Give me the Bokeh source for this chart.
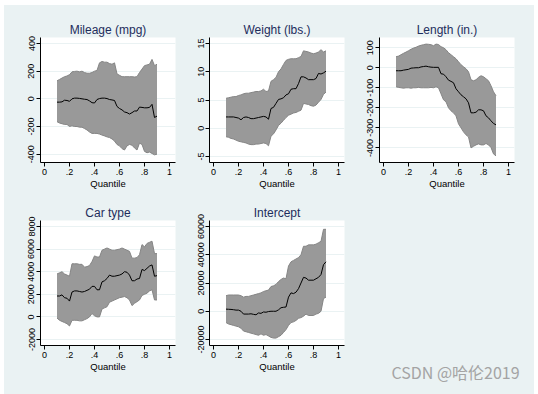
from bokeh.plotting import figure
from bokeh.layouts import gridplot
from bokeh.models import Range1d, FixedTicker, Title
from bokeh.embed import file_html
from bokeh.resources import INLINE

quantile = [0.10, 0.12, 0.14, 0.16, 0.18, 0.20, 0.22, 0.24, 0.26, 0.28, 0.30,
            0.32, 0.34, 0.36, 0.38, 0.40, 0.42, 0.44, 0.46, 0.48, 0.50, 0.52,
            0.54, 0.56, 0.58, 0.60, 0.62, 0.64, 0.66, 0.68, 0.70, 0.72, 0.74,
            0.76, 0.78, 0.80, 0.82, 0.84, 0.86, 0.88, 0.90]

mpg_coef = [-24, -24, -22, -10, -12, -18, 0, 5, 5, 3, 0, -3, -5, -15, -28, -30, -5, 2, 5, 5, 2,
            -5, -8, -12, -55, -70, -80, -95, -100, -110, -100, -88, -88, -60, -62, -65, -65, -62,
            -40, -135, -125]
mpg_hi = [130, 140, 150, 160, 165, 175, 195, 198, 200, 195, 200, 190, 185, 185, 190, 200, 205,
          260, 270, 265, 265, 255, 250, 260, 180, 170, 160, 160, 160, 160, 160, 158, 160, 190,
          215, 240, 245, 250, 285, 240, 250]
mpg_lo = [-165, -175, -180, -185, -185, -200, -195, -200, -200, -205, -205, -215, -225, -240,
          -250, -250, -250, -255, -262, -268, -275, -280, -290, -305, -330, -340, -360, -370,
          -340, -330, -335, -355, -370, -320, -330, -380, -390, -385, -395, -405, -400]

wt_coef = [2.0, 2.0, 2.0, 2.0, 1.9, 1.8, 1.5, 1.9, 2.0, 1.9, 1.7, 1.7, 1.8, 1.9, 2.0, 2.1, 2.0,
           1.6, 3.5, 3.7, 4.4, 5.1, 5.2, 5.4, 5.9, 6.1, 6.9, 7.0, 7.0, 7.9, 9.1, 9.1, 8.9, 8.6,
           8.6, 8.6, 8.8, 9.7, 9.6, 9.8, 10.1]
wt_hi = [5.3, 5.4, 5.5, 5.6, 5.6, 5.8, 5.9, 6.1, 6.2, 6.2, 6.3, 6.4, 6.5, 6.5, 6.6, 6.9, 6.5,
         6.6, 8.3, 8.6, 9.0, 10.0, 10.5, 11.3, 12.0, 12.2, 12.3, 12.3, 12.3, 12.5, 12.7, 13.7,
         13.6, 13.5, 13.3, 13.2, 13.3, 13.5, 13.9, 13.5, 13.7]
wt_lo = [-1.5, -1.6, -1.8, -1.9, -2.1, -2.3, -2.4, -2.5, -2.6, -2.8, -2.9, -2.9, -2.8, -2.8,
         -2.7, -2.6, -2.7, -3.1, -1.4, -1.0, -0.3, 0.5, 0.9, 1.4, 1.9, 2.3, 2.5, 2.7, 2.8, 3.0,
         3.2, 4.4, 4.3, 4.2, 4.0, 3.9, 4.1, 4.6, 5.1, 6.0, 6.4]

len_coef = [-15, -15, -15, -12, -10, -8, -2, -1, 0, 0, 4, 6, 8, 5, 3, 2, 2, 2, -30, -32, -45,
            -62, -68, -75, -105, -120, -135, -145, -155, -175, -225, -225, -222, -210, -210,
            -215, -240, -250, -265, -278, -285]
len_hi = [55, 58, 65, 72, 78, 85, 92, 98, 102, 108, 112, 115, 118, 117, 115, 110, 118, 116, 105,
          100, 90, 75, 65, 55, 45, 30, 15, 5, -5, -20, -60, -65, -60, -48, -40, -45, -55, -65,
          -90, -120, -140]
len_lo = [-95, -98, -100, -102, -100, -100, -102, -100, -100, -98, -100, -100, -100, -100, -98,
          -100, -95, -100, -130, -160, -170, -200, -215, -225, -240, -280, -300, -320, -335,
          -345, -400, -392, -385, -380, -385, -385, -378, -385, -398, -430, -440]

car_coef = [1850, 1850, 1950, 1700, 1650, 1400, 2200, 2300, 2300, 2250, 2200, 2250, 2350, 2450,
            2700, 2700, 2400, 2400, 3100, 3200, 3400, 3700, 3600, 3600, 3650, 3700, 3800, 4000,
            3950, 3700, 3200, 3200, 3350, 3400, 4200, 4100, 4300, 4500, 4600, 3600, 3650]
car_hi = [3800, 3900, 4000, 3800, 3700, 3600, 4700, 4700, 4700, 4650, 4650, 4400, 4450, 4550,
          4900, 5400, 5300, 5300, 5900, 6000, 6100, 6000, 5900, 5900, 5950, 6000, 6100, 6000,
          5900, 5800, 5200, 5200, 5250, 5500, 6400, 6200, 6500, 6600, 6700, 5600, 5600]
car_lo = [-100, -300, -400, -500, -600, -800, -300, -300, -300, -350, -350, -250, -150, 0, 300,
          100, 0, 0, 700, 800, 900, 1300, 1400, 1500, 1600, 1700, 1750, 1800, 1700, 1500, 1000,
          1200, 1350, 1500, 1900, 2000, 2100, 2300, 2400, 1500, 1500]

int_coef = [1500, 1400, 1300, 1100, 800, 800, 0, -2000, -2000, -2000, -1800, -2200, -2500,
            -1200, -1500, -500, -700, -200, 0, 0, 0, 1000, 2500, 2800, 3000, 10000, 13000, 12500,
            13500, 16000, 20000, 24000, 23500, 22000, 22000, 22000, 23000, 24000, 26000, 33000,
            35000]
int_hi = [11000, 11500, 11500, 11500, 11500, 11500, 11000, 10000, 10500, 10500, 11000, 11500,
          12000, 12500, 13000, 14000, 14500, 15000, 17500, 18000, 19000, 21000, 22500, 23500,
          23000, 32000, 35000, 36000, 37000, 38000, 40000, 46000, 46000, 47000, 47000, 47000,
          47500, 48500, 49500, 58000, 58000]
int_lo = [-8000, -9000, -9500, -10000, -10500, -11000, -12000, -14000, -14500, -15000, -15500,
          -16000, -16500, -17000, -16000, -17000, -16500, -17500, -18500, -19000, -19000,
          -18000, -17000, -15000, -13000, -10000, -8000, -7500, -6500, -5000, -4500, -3500,
          -2000, -3000, -3000, -3000, -2000, -1500, 0, 9000, 10000]

x_ticks = [0, 0.2, 0.4, 0.6, 0.8, 1]
x_tick_labels = ["0", ".2", ".4", ".6", ".8", "1"]

titles = ["Mileage (mpg)", "Weight (lbs.)", "Length (in.)", "Car type", "Intercept"]
y_ticks = [[-400, -200, 0, 200, 400],
           [-5, 0, 5, 10, 15],
           [-400, -300, -200, -100, 0, 100],
           [-2000, 0, 2000, 4000, 6000, 8000],
           [-20000, 0, 20000, 40000, 60000]]
y_axis_span = [(-417, 400), (-5, 15), (-443, 121), (-2000, 8000), (-20000, 60000)]
watermark = "CSDN @哈伦2019"

BG = "#EAF2F3"
NAVY = "#1E2D5C"
TICK_FONT = "Liberation Sans"


def panel(i, coef, lo, hi, bl, br, bt, bb):
    ylo, yhi = y_axis_span[i]
    pad = (yhi - ylo) * 6.0 / 113.0
    p = figure(frame_width=135, frame_height=125,
               min_border_left=bl, min_border_right=br,
               min_border_top=bt, min_border_bottom=bb,
               x_range=Range1d(-0.032, 1.048),
               y_range=Range1d(ylo - pad, yhi + pad),
               output_backend="svg", toolbar_location=None,
               title=titles[i])
    p.border_fill_color = BG
    p.background_fill_color = "white"
    p.outline_line_color = None

    p.title.align = "center"
    p.title.text_font = "Liberation Sans"
    p.title.text_font_size = "12px"
    p.title.text_font_style = "normal"
    p.title.text_color = NAVY
    p.title.standoff = 2

    p.varea(x=quantile, y1=lo, y2=hi, fill_color="#999999", fill_alpha=1.0)
    p.line(quantile, hi, line_color="#858585", line_width=1)
    p.line(quantile, lo, line_color="#858585", line_width=1)
    p.line(quantile, coef, line_color="black", line_width=1)

    xa = p.xaxis[0]
    xa.ticker = FixedTicker(ticks=x_ticks)
    xa.major_label_overrides = {t: s for t, s in zip(x_ticks, x_tick_labels)}
    xa.axis_label = "Quantile"
    xa.axis_label_text_font = TICK_FONT
    xa.axis_label_text_font_size = "9.5px"
    xa.axis_label_text_font_style = "normal"
    xa.axis_label_standoff = 0
    xa.major_label_text_font = TICK_FONT
    xa.major_label_text_font_size = "9px"
    xa.major_label_standoff = 2

    ya = p.yaxis[0]
    ya.ticker = FixedTicker(ticks=y_ticks[i])
    ya.major_label_overrides = {t: str(t) for t in y_ticks[i]}
    ya.major_label_orientation = "vertical"
    ya.major_label_text_font = TICK_FONT
    ya.major_label_text_font_size = "9px"
    ya.major_label_standoff = 2

    for ax in (xa, ya):
        ax.axis_line_color = "black"
        ax.axis_line_width = 1
        ax.major_tick_line_color = "black"
        ax.major_tick_out = 4
        ax.major_tick_in = 0
        ax.minor_tick_line_color = None
        ax.major_label_text_color = "black"
        ax.axis_label_text_color = "black"

    p.xgrid.grid_line_color = None
    p.ygrid.grid_line_color = BG
    p.ygrid.grid_line_width = 1
    return p


p1 = panel(0, mpg_coef, mpg_lo, mpg_hi, 36, 3, 32, 29)
p2 = panel(1, wt_coef, wt_lo, wt_hi, 31, 4, 32, 29)
p3 = panel(2, len_coef, len_lo, len_hi, 31, 20, 32, 29)
p4 = panel(3, car_coef, car_lo, car_hi, 36, 3, 29, 44)
p5 = panel(4, int_coef, int_lo, int_hi, 31, 4, 29, 44)

p6 = figure(frame_width=135, frame_height=125,
            min_border_left=31, min_border_right=20,
            min_border_top=29, min_border_bottom=44,
            x_axis_location=None, y_axis_location=None,
            output_backend="svg", toolbar_location=None)
p6.border_fill_color = BG
p6.background_fill_color = BG
p6.outline_line_color = None
p6.grid.visible = False
wm = Title(text=watermark, align="left", offset=12, standoff=24,
           text_font="Noto Sans CJK SC", text_font_size="16px",
           text_font_style="normal", text_color="#A4A4A4")
p6.add_layout(wm, "below")

grid = gridplot([[p1, p2, p3], [p4, p5, p6]], toolbar_location=None)
grid.spacing = 0
grid.margin = (5, 0, 0, 4)
grid.styles = {"background-color": BG}

open("out.html", "w").write(file_html(grid, INLINE))
